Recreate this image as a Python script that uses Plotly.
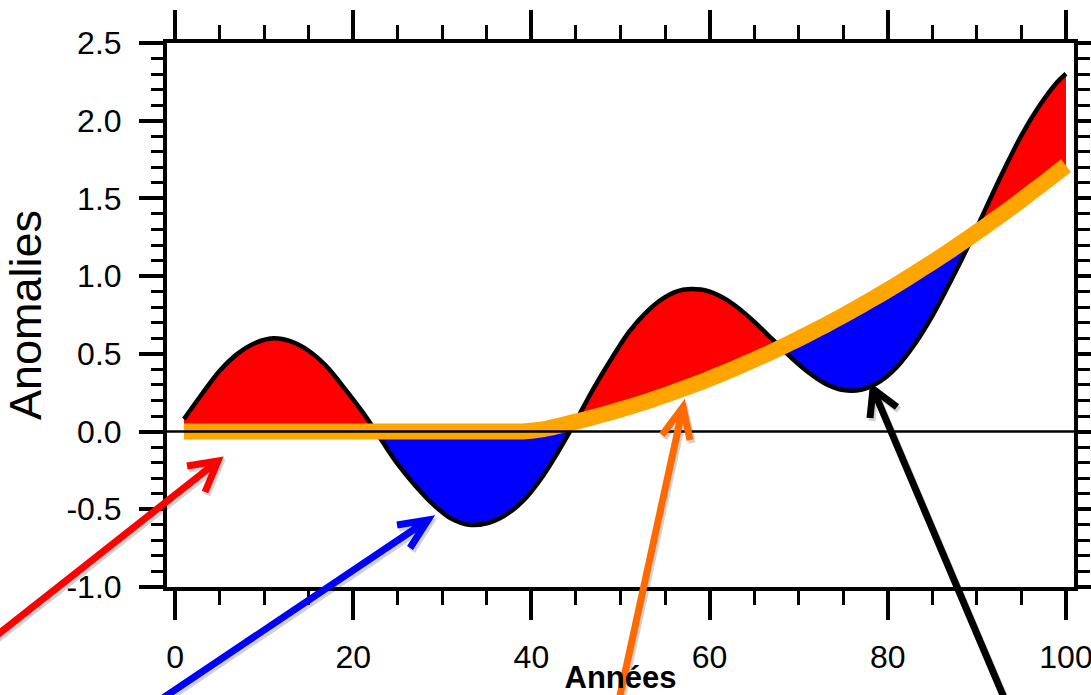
import plotly.graph_objects as go

# ---------------- data ----------------
years = [1, 3, 5, 7, 9, 11, 13, 15, 17, 19, 21, 23, 25, 27, 29, 31, 33, 35, 37, 39,
         41, 43, 45, 47, 49, 51, 53, 55, 57, 59, 61, 63, 65, 67, 69, 71, 73, 75, 77, 79,
         81, 83, 85, 87, 89, 91, 93, 95, 97, 99, 100]

anomalies = [0.08, 0.24, 0.39, 0.50, 0.57, 0.60, 0.58, 0.52, 0.42, 0.28, 0.13, -0.04,
             -0.21, -0.35, -0.47, -0.56, -0.60, -0.59, -0.54, -0.45, -0.31, -0.13,
             0.07, 0.28, 0.47, 0.645, 0.774, 0.865, 0.912, 0.914, 0.877, 0.805, 0.707,
             0.596, 0.484, 0.385, 0.308, 0.267, 0.269, 0.318, 0.414, 0.560, 0.744,
             0.961, 1.19, 1.436, 1.679, 1.906, 2.094, 2.247, 2.302]

trend = [0, 0, 0, 0, 0, 0, 0, 0, 0, 0, 0, 0, 0, 0, 0, 0, 0, 0, 0, 0,
         0.012, 0.036, 0.064, 0.093, 0.125, 0.159, 0.195, 0.234, 0.275, 0.318, 0.364,
         0.412, 0.462, 0.514, 0.569, 0.626, 0.685, 0.747, 0.811, 0.877, 0.945, 1.017,
         1.090, 1.165, 1.243, 1.323, 1.405, 1.490, 1.577, 1.666, 1.711]

x_ticks = [0, 20, 40, 60, 80, 100]
y_ticks = [-1.0, -0.5, 0.0, 0.5, 1.0, 1.5, 2.0, 2.5]
y_ticklabels = [f"{v:.1f}" for v in y_ticks]

x_title = "<b>Années</b>"
y_title = "Anomalies"

# ---------------- derived fill boundaries (with crossing points) ----------------
def with_crossings(x, a, b):
    X, A, B = [x[0]], [a[0]], [b[0]]
    for i in range(len(x) - 1):
        d0 = a[i] - b[i]
        d1 = a[i + 1] - b[i + 1]
        if d0 * d1 < 0:
            t = d0 / (d0 - d1)
            xc = x[i] + t * (x[i + 1] - x[i])
            yc = b[i] + t * (b[i + 1] - b[i])
            X.append(xc); A.append(yc); B.append(yc)
        X.append(x[i + 1]); A.append(a[i + 1]); B.append(b[i + 1])
    return X, A, B

fx, fa, fb = with_crossings(years, anomalies, trend)
upper = [max(p, q) for p, q in zip(fa, fb)]
lower = [min(p, q) for p, q in zip(fa, fb)]

fig = go.Figure()
fig.add_trace(go.Scatter(x=fx, y=fb, mode="lines", line=dict(width=0), hoverinfo="skip"))
fig.add_trace(go.Scatter(x=fx, y=upper, mode="lines", line=dict(width=0),
                         fill="tonexty", fillcolor="#FF0000", hoverinfo="skip"))
fig.add_trace(go.Scatter(x=fx, y=fb, mode="lines", line=dict(width=0), hoverinfo="skip"))
fig.add_trace(go.Scatter(x=fx, y=lower, mode="lines", line=dict(width=0),
                         fill="tonexty", fillcolor="#0000FF", hoverinfo="skip"))
fig.add_trace(go.Scatter(x=years, y=anomalies, mode="lines",
                         line=dict(color="black", width=4.5, shape="spline")))
fig.add_trace(go.Scatter(x=years, y=trend, mode="lines",
                         line=dict(color="#FFA500", width=16, shape="spline", smoothing=0.4)))

# ---------------- layout ----------------
W, H = 1091, 695
ML, MR, MT, MB = 167, 17, 43, 108
PW, PH = W - ML - MR, H - MT - MB

def paper(xp, yp):
    return (xp - ML) / PW, (MT + PH - yp) / PH

shapes = [dict(type="line", xref="paper", yref="y", x0=0, x1=1, y0=0, y1=0,
               line=dict(color="black", width=2.5), layer="above")]

arrows = [
    ("#FF0000", (-8, 639), (218, 461), (187, 466), (205, 492)),
    ("#0000FF", (160, 700), (428, 520), (397, 525), (410, 548)),
    ("#FF6A00", (619, 700), (683, 407), (662, 435), (690, 440)),
    ("#000000", (1005, 700), (873, 389), (870, 418), (897, 407)),
]

def path_for(tail, tip, w1, w2, dx=0, dy=0):
    pts = [paper(p[0] + dx, p[1] + dy) for p in (tail, tip, w1, tip, w2)]
    s = "M {:.5f},{:.5f} L {:.5f},{:.5f} M {:.5f},{:.5f} L {:.5f},{:.5f} L {:.5f},{:.5f}".format(
        *[c for p in pts for c in p])
    return s

for color, tail, tip, w1, w2 in arrows:
    shapes.append(dict(type="path", xref="paper", yref="paper",
                       path=path_for(tail, tip, w1, w2, 2, 3),
                       line=dict(color="rgba(0,0,0,0.18)", width=7), layer="above"))
    shapes.append(dict(type="path", xref="paper", yref="paper",
                       path=path_for(tail, tip, w1, w2),
                       line=dict(color=color, width=7), layer="above"))

font_family = "Liberation Sans, Arial, Helvetica, sans-serif"

fig.update_layout(
    width=W, height=H,
    margin=dict(l=ML, r=MR, t=MT, b=MB, autoexpand=False),
    paper_bgcolor="white", plot_bgcolor="white",
    showlegend=False,
    font=dict(family=font_family, color="black"),
    shapes=shapes,
    xaxis=dict(
        range=[-0.9, 100.9], tickmode="array", tickvals=x_ticks,
        ticks="outside", ticklen=29, tickwidth=4, tickcolor="black",
        showline=True, linewidth=4, linecolor="black", mirror="allticks",
        showgrid=False, zeroline=False,
        tickfont=dict(size=32, family=font_family, color="black"),
        ticklabelstandoff=10, ticklabeloverflow="allow",
        minor=dict(tickmode="linear", tick0=0, dtick=5, ticks="outside",
                   ticklen=14, tickwidth=3, tickcolor="black", showgrid=False),
        title=dict(text=x_title, standoff=9,
                   font=dict(size=31, family=font_family, color="black")),
    ),
    yaxis=dict(
        range=[-1.0, 2.5], tickmode="array", tickvals=y_ticks, ticktext=y_ticklabels,
        ticks="outside", ticklen=24, tickwidth=4, tickcolor="black",
        showline=True, linewidth=4, linecolor="black", mirror="allticks",
        showgrid=False, zeroline=False,
        tickfont=dict(size=32, family=font_family, color="black"),
        ticklabelstandoff=11, ticklabeloverflow="allow",
        minor=dict(tickmode="linear", tick0=0, dtick=0.1, ticks="outside",
                   ticklen=12, tickwidth=3, tickcolor="black", showgrid=False),
        title=dict(text=y_title, standoff=17,
                   font=dict(size=45, family=font_family, color="black")),
    ),
)

fig.write_html("out.html", config={"displayModeBar": False},
               post_script="document.body.style.margin='0px';")
